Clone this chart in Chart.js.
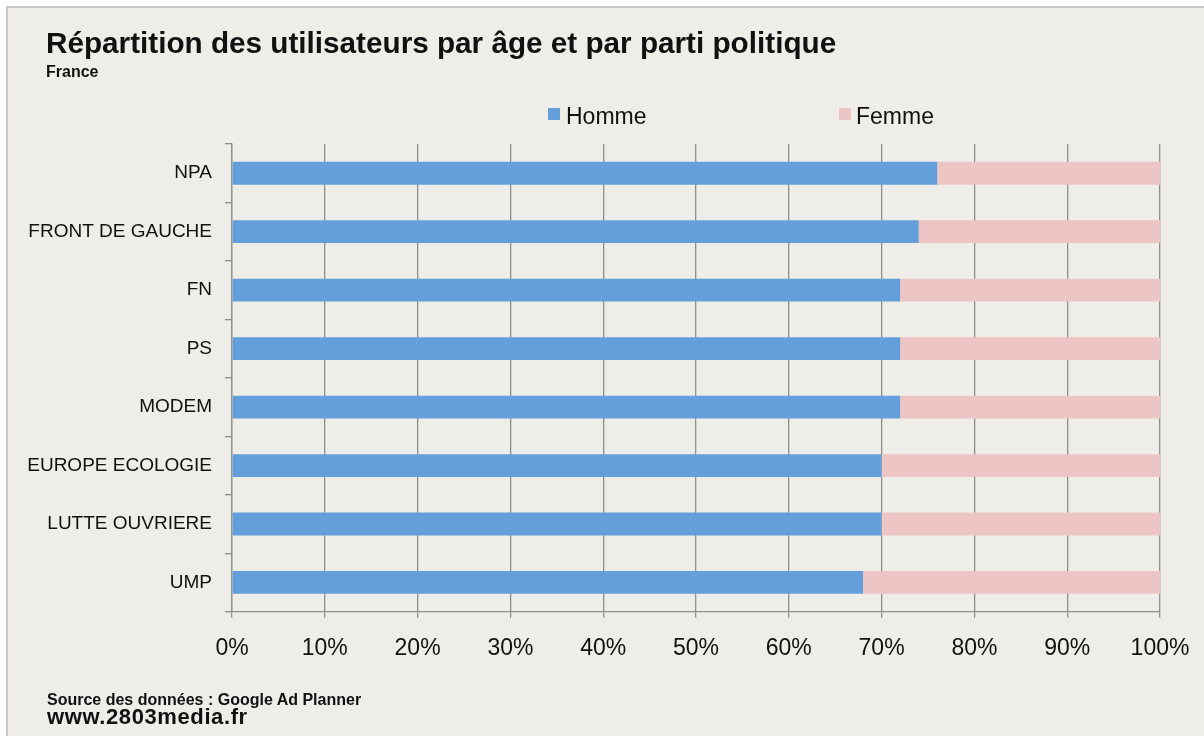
<!DOCTYPE html>
<html lang="fr">
<head>
<meta charset="utf-8">
<script src="https://cdn.jsdelivr.net/npm/chart.js@4"></script>
<style>
  body { margin: 0; background: #fff; width: 1204px; height: 736px; overflow: hidden; position: relative;
         font-family: "Liberation Sans", Arial, Helvetica, sans-serif; color: #111; }
  #frame { position: absolute; left: 6px; top: 6px; width: 1210px; height: 760px;
           background: #efede7; border: 2px solid #c9c9c6; }
  #chart { position: absolute; left: 0; top: 0; }
  .txt { position: absolute; white-space: nowrap; font-weight: bold; }
  .leg { position: absolute; white-space: nowrap; font-size: 23px; line-height: 23px; }
  .box { position: absolute; width: 12px; height: 12px; }
</style>
</head>
<body>
<div id="frame"></div>
<canvas id="chart" width="1204" height="736"></canvas>

<div class="txt" style="left:46px; top:28px; font-size:29.7px; line-height:29.7px;">Répartition des utilisateurs par âge et par parti politique</div>
<div class="txt" style="left:46px; top:64px; font-size:16px; line-height:16px;">France</div>

<div class="box" style="left:548px; top:108px; background:#659fdb;"></div>
<div class="leg" style="left:566px; top:105px;">Homme</div>
<div class="box" style="left:839px; top:108px; background:#edc5c5;"></div>
<div class="leg" style="left:856px; top:105px;">Femme</div>

<div class="txt" style="left:47px; top:692px; font-size:16px; line-height:16px;">Source des données : Google Ad Planner</div>
<div class="txt" style="left:47px; top:706px; font-size:22px; line-height:22px; letter-spacing:0.6px;">www.2803media.fr</div>

<script>
const partis = ['NPA', 'FRONT DE GAUCHE', 'FN', 'PS', 'MODEM', 'EUROPE ECOLOGIE', 'LUTTE OUVRIERE', 'UMP'];
const homme = [76, 74, 72, 72, 72, 70, 70, 68];
const femme = [24, 26, 28, 28, 28, 30, 30, 32];
const xTickLabels = ['0%', '10%', '20%', '30%', '40%', '50%', '60%', '70%', '80%', '90%', '100%'];

const FONT = '"Liberation Sans", Arial, Helvetica, sans-serif';
const GRID = '#8e8e8c';

new Chart(document.getElementById('chart'), {
    type: 'bar',
    data: {
        labels: partis,
        datasets: [
            { label: 'Homme', data: homme, backgroundColor: '#659fdb', barPercentage: 0.39, categoryPercentage: 1 },
            { label: 'Femme', data: femme, backgroundColor: '#edc5c5', barPercentage: 0.39, categoryPercentage: 1 }
        ]
    },
    options: {
        indexAxis: 'y',
        responsive: false,
        animation: false,
        layout: { padding: { top: 144, right: 44, bottom: 0, left: 0 } },
        plugins: {
            legend: { display: false },
            tooltip: { enabled: false }
        },
        scales: {
            x: {
                stacked: true,
                min: 0,
                max: 100,
                ticks: {
                    stepSize: 10,
                    callback: (v, i) => xTickLabels[i],
                    font: { family: FONT, size: 23 },
                    color: '#111',
                    padding: 17
                },
                grid: { color: GRID, lineWidth: 1.3, tickLength: 6 },
                border: { color: GRID, width: 1.3 },
                afterFit: s => { s.height = 124.3; s.paddingRight = 0; s.paddingLeft = 0 }
            },
            y: {
                stacked: true,
                ticks: {
                    font: { family: FONT, size: 19 },
                    color: '#111',
                    padding: 13
                },
                grid: { drawOnChartArea: false, offset: true, tickLength: 7, color: GRID, lineWidth: 1.3 },
                border: { color: GRID, width: 1.3 },
                afterFit: s => { s.width = 232 }
            }
        }
    }
});
</script>
</body>
</html>
